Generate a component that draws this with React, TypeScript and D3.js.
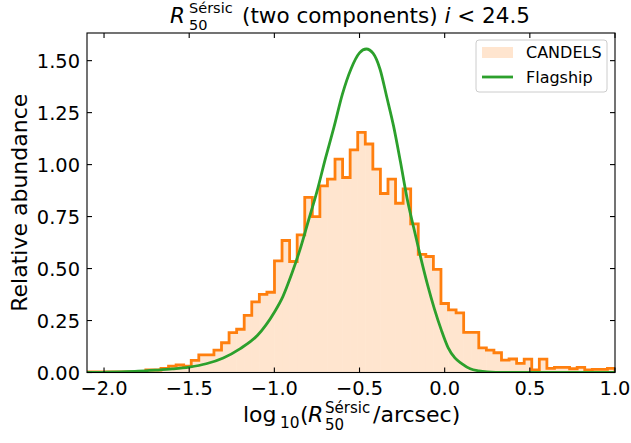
import React from 'react';
import { scaleLinear, line, range, format, curveMonotoneX } from 'd3';

// CANDELS histogram, 70 bins between binLo and binHi
const binLo = -2.11;
const binHi = 1.0;
const candelsHeights = [
    0.003, 0.003, 0.003, 0.003, 0.003, 0.003, 0.003, 0.004, 0.012, 0.012,
    0.02, 0.031, 0.036, 0.03, 0.058, 0.085, 0.085, 0.108, 0.143, 0.192,
    0.208, 0.275, 0.34, 0.376, 0.386, 0.537, 0.635, 0.534, 0.662, 0.842,
    0.75, 0.898, 0.93, 1.026, 0.938, 1.071, 1.155, 1.099, 0.978, 0.861,
    0.93, 0.814, 0.883, 0.715, 0.568, 0.558, 0.496, 0.332, 0.301, 0.287,
    0.193, 0.193, 0.118, 0.108, 0.095, 0.06, 0.065, 0.044, 0.064, 0.012,
    0.064, 0.02, 0.025, 0.025, 0.018, 0.025, 0.012, 0.015, 0.015, 0.02,
];

// Flagship curve
const flagshipX = [-2.1, -2.0, -1.9, -1.8, -1.7, -1.6, -1.5, -1.4, -1.3, -1.2, -1.1, -1.0, -0.95, -0.9, -0.85, -0.8, -0.75, -0.7, -0.65, -0.6, -0.55, -0.5, -0.46, -0.42, -0.38, -0.34, -0.3, -0.26, -0.22, -0.18, -0.14, -0.1, -0.06, -0.02, 0.02, 0.06, 0.1, 0.15, 0.2, 0.25, 0.3, 0.4, 0.6, 1.0];
const flagshipY = [0.0, 0.001, 0.003, 0.006, 0.011, 0.017, 0.026, 0.042, 0.07, 0.115, 0.178, 0.29, 0.365, 0.47, 0.59, 0.73, 0.87, 1.03, 1.18, 1.34, 1.46, 1.537, 1.556, 1.535, 1.46, 1.325, 1.185, 1.015, 0.835, 0.69, 0.55, 0.42, 0.305, 0.205, 0.12, 0.07, 0.043, 0.018, 0.008, 0.003, 0.001, 0.0, 0.0, 0.0];

const xTicks = [-2.0, -1.5, -1.0, -0.5, 0.0, 0.5, 1.0];
const yTicks = [0, 0.25, 0.5, 0.75, 1.0, 1.25, 1.5];
const xDomain = [-2.1, 1.0];
const yDomain = [0, 1.633];

const orange = '#ff7f0e';
const green = '#2ca02c';
const font = 'DejaVu Sans';

const App = () => {
    const svgWidth = 631;
    const svgHeight = 443;
    const margin = { left: 87, right: 16, top: 33, bottom: 70.5 };
    const x0 = margin.left, x1 = svgWidth - margin.right;
    const y0 = svgHeight - margin.bottom, y1 = margin.top;

    const x = scaleLinear().domain(xDomain).range([x0, x1]);
    const y = scaleLinear().domain(yDomain).range([y0, y1]);

    const n = candelsHeights.length;
    const edges = range(n + 1).map(i => binLo + i * (binHi - binLo) / n);

    let stepPts: [number, number][] = [[edges[0], 0]];
    candelsHeights.forEach((h, i) => {
        stepPts.push([edges[i], h]);
        stepPts.push([edges[i + 1], h]);
    });
    stepPts.push([edges[n], 0]);

    const lineFunc = line<[number, number]>().x(d => x(d[0])).y(d => y(d[1]));
    const curveFunc = line<[number, number]>().x(d => x(d[0])).y(d => y(d[1])).curve(curveMonotoneX);
    const flagshipPts = flagshipX.map((v, i) => [v, flagshipY[i]] as [number, number]);

    const fx = format('.1f');
    const fy = format('.2f');
    const tickLen = 5;

    return (
        <svg width={svgWidth} height={svgHeight} style={{ position: 'absolute', left: 0, top: 0, background: 'white' }}>
            <defs>
                <clipPath id="plotArea">
                    <rect x={x0} y={y1} width={x1 - x0} height={y0 - y1} />
                </clipPath>
            </defs>
            <g clipPath="url(#plotArea)">
                {candelsHeights.map((h, i) =>
                    <rect key={i} x={x(edges[i])} width={x(edges[i + 1]) - x(edges[i])} y={y(h)} height={y(0) - y(h)} fill={orange} fillOpacity={0.2} />
                )}
                <path d={lineFunc(stepPts)} fill='none' stroke={orange} strokeWidth={2.8} strokeLinejoin='miter' />
                <path d={curveFunc(flagshipPts)} fill='none' stroke={green} strokeWidth={2.8} strokeLinejoin='round' />
            </g>

            <rect x={x0} y={y1} width={x1 - x0} height={y0 - y1} fill='none' stroke='black' strokeWidth={1.1} />

            {xTicks.map(t =>
                <g key={'x' + t}>
                    <line x1={x(t)} x2={x(t)} y1={y0} y2={y0 - tickLen} stroke='black' strokeWidth={1.1} />
                    <line x1={x(t)} x2={x(t)} y1={y1} y2={y1 + tickLen} stroke='black' strokeWidth={1.1} />
                    <text x={x(t)} y={y0 + 22} textAnchor='middle' fontFamily={font} fontSize={19.4}>{fx(t)}</text>
                </g>
            )}
            {yTicks.map(t =>
                <g key={'y' + t}>
                    <line x1={x0} x2={x0 + tickLen} y1={y(t)} y2={y(t)} stroke='black' strokeWidth={1.1} />
                    <line x1={x1} x2={x1 - tickLen} y1={y(t)} y2={y(t)} stroke='black' strokeWidth={1.1} />
                    <text x={x0 - 7} y={y(t) + 7} textAnchor='end' fontFamily={font} fontSize={19.4}>{fy(t)}</text>
                </g>
            )}

            {/* title */}
            <g fontFamily={font} fontSize={21.5}>
                <text x={170} y={23} fontStyle='italic'>R</text>
                <text x={189} y={13} fontSize={14.5}>Sérsic</text>
                <text x={189} y={30} fontSize={14.5}>50</text>
                <text x={242} y={23}>(two components) <tspan fontStyle='italic'>i</tspan> &lt; 24.5</text>
            </g>

            {/* x label */}
            <g fontFamily={font} fontSize={22}>
                <text x={243} y={422}>log</text>
                <text x={280} y={428} fontSize={15.4}>10</text>
                <text x={300} y={422}>(</text>
                <text x={308} y={422} fontStyle='italic'>R</text>
                <text x={325} y={413} fontSize={15}>Sérsic</text>
                <text x={325} y={430} fontSize={15}>50</text>
                <text x={373} y={422}>/arcsec)</text>
            </g>

            {/* y label */}
            <text transform={`translate(27,${(y0 + y1) / 2}) rotate(-90)`} textAnchor='middle' fontFamily={font} fontSize={22}>Relative abundance</text>

            {/* legend */}
            <g fontFamily={font} fontSize={16}>
                <rect x={476} y={40} width={131} height={52} rx={3} fill='white' fillOpacity={0.8} stroke='#cccccc' strokeWidth={1} />
                <rect x={482} y={47} width={31} height={11} fill={orange} fillOpacity={0.2} />
                <text x={526} y={58}>CANDELS</text>
                <line x1={482} x2={513} y1={77} y2={77} stroke={green} strokeWidth={2.8} />
                <text x={526} y={83}>Flagship</text>
            </g>
        </svg>
    );
}

export default App;
